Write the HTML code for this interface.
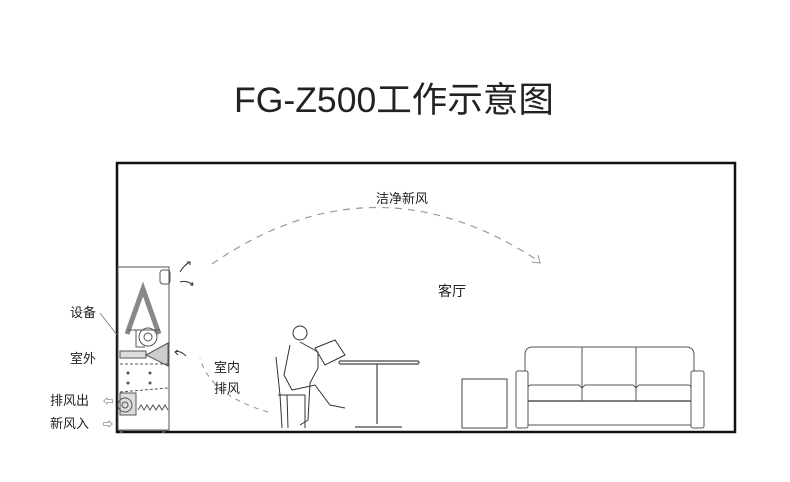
<!DOCTYPE html>
<html><head><meta charset="utf-8"><style>
html,body{margin:0;padding:0;background:#fff;}
svg{display:block;}
text{font-family:"Liberation Sans","Noto Sans CJK SC",sans-serif;fill:#222;}
</style></head><body>
<svg width="790" height="482" viewBox="0 0 790 482" xmlns="http://www.w3.org/2000/svg">
<text x="394" y="112" font-size="35" text-anchor="middle" fill="#231815" textLength="320" lengthAdjust="spacingAndGlyphs">FG-Z500工作示意图</text>
<!-- room -->
<rect x="117" y="163" width="618" height="269" fill="none" stroke="#111" stroke-width="2.5"/>
<!-- clean air dashed curve -->
<path d="M212 264 Q375 152 540 262" fill="none" stroke="#999" stroke-width="1.2" stroke-dasharray="7,6"/>
<path d="M532 262 L540 263 L538 255" fill="none" stroke="#999" stroke-width="1"/>
<text x="402" y="203" font-size="13" text-anchor="middle">洁净新风</text>
<text x="452" y="296" font-size="14" text-anchor="middle">客厅</text>
<!-- exhaust indoor dashed -->
<path d="M268 412 Q210 395 200 358" fill="none" stroke="#999" stroke-width="1.1" stroke-dasharray="5,5"/>
<text x="227" y="372" font-size="13" text-anchor="middle">室内</text>
<text x="227" y="393" font-size="13" text-anchor="middle">排风</text>
<!-- device -->
<g stroke="#555" stroke-width="1" fill="none">
<rect x="118" y="267" width="51" height="163" fill="#fff"/>
<polyline points="127,334 143,289 159,334" stroke="#888" stroke-width="5" stroke-linejoin="miter"/>
<line x1="128" y1="330" x2="160" y2="330"/>
<circle cx="148" cy="337" r="9"/><circle cx="148" cy="337" r="4"/>
<path d="M136 330 L136 347 L145 347"/>
<rect x="120" y="351" width="26" height="7" fill="#ddd"/>
<path d="M146 355 L168 343 L168 366 Z" fill="#ccc"/>
<line x1="120" y1="364" x2="168" y2="364" stroke-dasharray="3,2"/>
<line x1="120" y1="392" x2="168" y2="388" stroke-dasharray="3,2"/>
<rect x="120" y="393" width="16" height="22" fill="#ddd"/>
<circle cx="125" cy="405" r="7"/><circle cx="125" cy="405" r="3"/>
<path d="M138 410 l3 -5 l3 5 l3 -5 l3 5 l3 -5 l3 5 l3 -5 l3 5 l3 -5 l3 5"/>
<rect x="160" y="270" width="10" height="14" rx="3"/>
</g>
<g fill="#555"><circle cx="128" cy="373" r="1.5"/><circle cx="150" cy="373" r="1.5"/><circle cx="128" cy="383" r="1.5"/><circle cx="150" cy="383" r="1.5"/>
<rect x="120" y="430" width="3" height="3"/><rect x="162" y="430" width="3" height="3"/></g>
<g stroke="#333" stroke-width="1" fill="none">
<path d="M180 272 Q184 265 190 262 M187 262 L190 262 L190 265"/>
<path d="M180 282 Q187 280 193 285 M190 285 L193 285 L192 282"/>
<path d="M186 356 Q180 350 175 352 M178 350 L175 352 L178 355"/>
</g>
<text x="70" y="317" font-size="13">设备</text>
<line x1="100" y1="313" x2="117" y2="335" stroke="#777" stroke-width="0.8"/>
<text x="70" y="363" font-size="13">室外</text>
<text x="50" y="405" font-size="13">排风出</text>
<text x="50" y="428" font-size="13">新风入</text>
<text x="103" y="405" font-size="10" fill="#777">⇦</text>
<text x="103" y="428" font-size="10" fill="#777">⇨</text>
<!-- person & chair -->
<g stroke="#333" stroke-width="1" fill="none">
<path d="M276 357 L280 395 L282 428 M287 395 L288 428 M278 395 L305 395 M305 395 L305 428"/>
<circle cx="300" cy="333" r="7"/>
<path d="M290 345 L284 375 L292 390 L315 385 L330 405 L345 408 M300 342 L318 352 L318 368 L310 383 L308 420 L300 425"/>
<path d="M315 348 L335 340 L345 355 L325 365 Z"/>
</g>
<!-- table -->
<g stroke="#444" stroke-width="1.2" fill="none">
<rect x="339" y="361" width="80" height="3" rx="1.5"/>
<line x1="377" y1="364" x2="377" y2="424"/>
<line x1="355" y1="427" x2="402" y2="427"/>
</g>
<!-- side box -->
<rect x="462" y="379" width="45" height="49" fill="none" stroke="#444" stroke-width="1"/>
<!-- sofa -->
<g stroke="#555" stroke-width="1" fill="none">
<path d="M525 371 L525 355 Q525 347 533 347 L686 347 Q694 347 694 355 L694 371"/>
<rect x="516" y="371" width="12" height="57" rx="2"/>
<rect x="691" y="371" width="13" height="57" rx="2"/>
<line x1="528" y1="425" x2="691" y2="425"/>
<line x1="582" y1="347" x2="582" y2="401"/>
<line x1="636" y1="347" x2="636" y2="401"/>
<path d="M528 388 Q528 385 531 385 L579 385 L582 388 L585 385 L633 385 L636 388 L639 385 L688 385 Q691 385 691 388"/>
<line x1="528" y1="401" x2="691" y2="401" stroke-width="1.5"/>
</g>
</svg>
</body></html>
